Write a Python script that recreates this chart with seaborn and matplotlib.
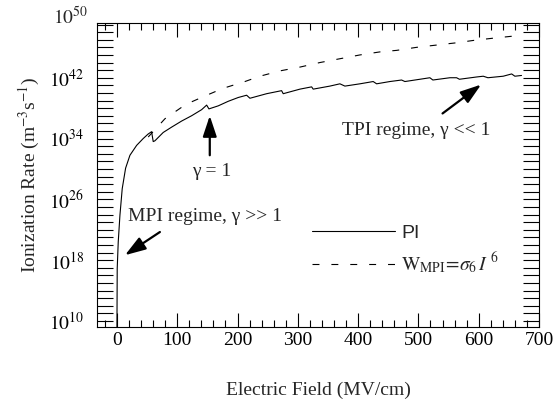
import matplotlib
matplotlib.use('Agg')
import matplotlib.pyplot as plt
import matplotlib.ticker as mticker
import seaborn as sns
import numpy as np
import pandas as pd

# photoionization (PI) rate: field in MV/cm, log10 of rate
pi_field = [0, 0.5, 2.2, 5.0, 8.8, 14.4, 21.6, 32.7, 43.6, 51.9, 57.5, 60.2, 63,
            76.8, 90.7, 107.3, 123.9, 140.5, 148.8, 152.6, 168, 184.6, 201.2,
            215.1, 220.6, 248.3, 273.1, 275.8, 303.5, 322.9, 325.5, 353.2, 369.8,
            378.1, 403, 425, 430.7, 452.7, 472.1, 477.6, 502.5, 519, 524, 552.2,
            563.3, 568, 596.5, 607.5, 615.3, 640.6, 654.6, 660, 671]
pi_log = [8.0, 16.9, 20.4, 23.9, 27.4, 30.1, 31.8, 33.1, 34.0, 34.6, 34.9, 33.6, 33.7,
          34.8, 35.5, 36.3, 37.0, 37.8, 38.4, 37.9, 38.3, 38.9, 39.4,
          39.7, 39.3, 39.9, 40.3, 39.9, 40.5, 40.8, 40.5, 40.9, 41.2,
          40.9, 41.2, 41.5, 41.2, 41.5, 41.7, 41.5, 41.8, 42.0, 41.7, 42.0,
          42.0, 41.8, 42.1, 42.2, 42.0, 42.2, 42.5, 42.2, 42.3]

# multiphoton (W_MPI = sigma_6 I^6) rate
mpi_field = [51.9, 79.6, 114.4, 146, 175.8, 212.3, 237.1, 270.3, 303.5, 336.7, 369.8,
             403, 436.2, 463.8, 497, 530.2, 563.3, 590.4, 623.5, 660, 670]
mpi_log = [34.2, 36.6, 38.5, 39.6, 40.6, 41.5, 42.2, 42.9, 43.4, 44.0, 44.5,
           45.0, 45.4, 45.6, 46.0, 46.3, 46.6, 46.9, 47.2, 47.5, 47.6]

x_ticks = [0, 100, 200, 300, 400, 500, 600, 700]
y_exps = [10, 18, 26, 34, 42]
y_labels = ['$10^{%d}$' % e for e in y_exps]

sns.set_theme(style='ticks')
plt.rcParams['font.family'] = ['Liberation Serif', 'DejaVu Serif']
plt.rcParams['mathtext.fontset'] = 'stix'
plt.rcParams['lines.scale_dashes'] = False

pi_df = pd.DataFrame({'field': pi_field, 'rate': 10.0 ** np.array(pi_log)})
mpi_df = pd.DataFrame({'field': mpi_field, 'rate': 10.0 ** np.array(mpi_log)})

fig = plt.figure(figsize=(5.55, 4.01), dpi=100)
ax = fig.add_axes([0.1748, 0.1845, 0.7964, 0.7581])

sns.lineplot(data=pi_df, x='field', y='rate', ax=ax, color='black', lw=0.8,
             estimator=None, sort=False)
sns.lineplot(data=mpi_df, x='field', y='rate', ax=ax, color='black', lw=0.8,
             estimator=None, sort=False, linestyle=(0, (5.0, 8.6)))

ax.set_yscale('log')
ax.set_xlim(-33, 700)
ax.set_ylim(10 ** 9.2, 10 ** 49.2)

ax.xaxis.set_major_locator(mticker.FixedLocator(x_ticks))
ax.xaxis.set_minor_locator(mticker.MultipleLocator(20))
ax.set_yticks([10.0 ** e for e in y_exps])
ax.set_yticklabels(y_labels)
ax.yaxis.set_minor_locator(mticker.FixedLocator([10.0 ** k for k in range(9, 50)]))
ax.yaxis.set_minor_formatter(mticker.NullFormatter())

ax.tick_params(which='both', direction='in', top=True, right=True,
               width=0.8, color='black', labelsize=14, labelcolor='black')
ax.tick_params(axis='x', which='major', length=10, pad=3.5)
ax.tick_params(axis='x', which='minor', length=5)
ax.tick_params(axis='y', which='both', length=11.5, pad=9)
for s in ax.spines.values():
    s.set_linewidth(0.8)
    s.set_color('black')

# top label sits just above the frame
ax.text(-0.02, 10.0 ** 49.9, '$10^{50}$', transform=ax.get_yaxis_transform(),
        ha='right', va='center', fontsize=14, clip_on=False)

ax.set_xlabel('Electric Field (MV/cm)', fontsize=14)
ax.set_ylabel(r'Ionization Rate (m$^{-3}$s$^{-1}$)', fontsize=14)
ax.xaxis.set_label_coords(0.5, -0.18)
ax.yaxis.set_label_coords(-0.125, 0.5)

arrow = dict(arrowstyle='-|>,head_length=0.9,head_width=0.3', color='black',
             lw=1.6, mutation_scale=14, shrinkA=0, shrinkB=0)
ax.annotate('', xy=(154, 10 ** 37.0), xytext=(154, 10 ** 31.8), arrowprops=arrow)
ax.text(157, 10 ** 29.1, 'γ = 1', ha='center', va='baseline', fontsize=14)
ax.annotate('', xy=(13.3, 10 ** 18.65), xytext=(71.3, 10 ** 21.7), arrowprops=arrow)
ax.text(18.2, 10 ** 23.2, 'MPI regime, γ >> 1', ha='left', va='baseline', fontsize=14)
ax.annotate('', xy=(604, 10 ** 41.1), xytext=(540, 10 ** 37.3), arrowprops=arrow)
ax.text(373, 10 ** 34.4, 'TPI regime, γ << 1', ha='left', va='baseline', fontsize=14)

lines = ax.get_lines()
leg = ax.legend(handles=[lines[0], lines[1]],
                labels=['PI', r'$\mathrm{W}_{\mathrm{MPI}}\!=\!\sigma_6\, I^{\ 6}$'],
                loc='center left', bbox_to_anchor=(0.486, 0.253), frameon=False,
                handlelength=4.3, handletextpad=0.3, borderpad=0, borderaxespad=0,
                labelspacing=0.45, fontsize=14)
leg.get_texts()[0].set_fontfamily('Liberation Sans')

fig.savefig('out.png', dpi=100)
